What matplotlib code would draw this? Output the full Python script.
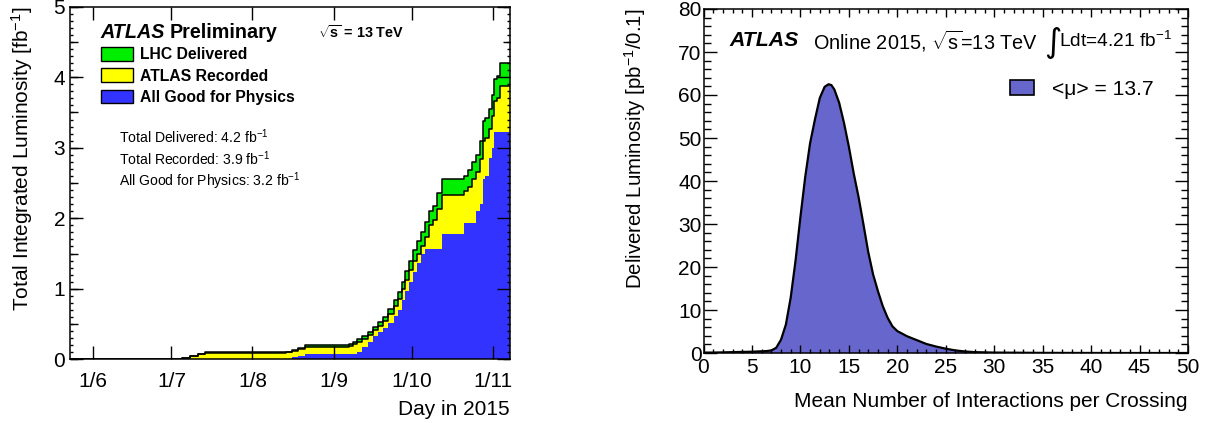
import matplotlib
matplotlib.use('Agg')
import matplotlib.pyplot as plt
from matplotlib.ticker import MultipleLocator
from matplotlib.patches import Patch

plt.rcParams['font.family'] = ['Liberation Sans', 'DejaVu Sans']
plt.rcParams['mathtext.fontset'] = 'custom'
plt.rcParams['mathtext.rm'] = 'Liberation Sans'
plt.rcParams['mathtext.it'] = 'Liberation Sans:italic'
plt.rcParams['mathtext.bf'] = 'Liberation Sans:bold'

# ---------------- data: left panel (cumulative luminosity, fb^-1) ----------------
day_of_year = [143, 152, 180, 186, 189, 192, 195, 226, 228, 230.5, 233, 250, 251.5, 253,
               255, 257, 259, 261, 263, 265, 267, 268.5, 270, 271.5, 273, 274.5, 276,
               277.5, 279, 280.5, 282, 283.5, 285.4, 294, 295.5, 297, 298.5, 300, 301,
               302, 303.5, 304.5, 305.5, 306.5, 307.5, 311.6]
lhc_delivered = [0, 0.002, 0.004, 0.02, 0.05, 0.08, 0.1, 0.11, 0.13, 0.16, 0.2, 0.22, 0.25,
                 0.29, 0.33, 0.39, 0.46, 0.53, 0.6, 0.72, 0.84, 0.96, 1.1, 1.25, 1.4, 1.55,
                 1.68, 1.8, 1.95, 2.1, 2.17, 2.36, 2.55, 2.6, 2.68, 2.8, 2.9, 3.1, 3.38,
                 3.42, 3.55, 3.75, 3.98, 4.02, 4.2, 4.2]
atlas_recorded = [0, 0.0015, 0.003, 0.015, 0.04, 0.07, 0.09, 0.1, 0.115, 0.145, 0.18, 0.19,
                  0.22, 0.25, 0.29, 0.34, 0.41, 0.47, 0.54, 0.64, 0.75, 0.86, 0.99, 1.12,
                  1.26, 1.4, 1.5, 1.6, 1.74, 1.9, 1.97, 2.13, 2.33, 2.38, 2.45, 2.56,
                  2.66, 2.84, 3.1, 3.14, 3.27, 3.45, 3.66, 3.7, 3.87, 3.87]
good_for_physics = [0, 0, 0, 0, 0, 0, 0, 0, 0.03, 0.05, 0.07, 0.07, 0.07, 0.1, 0.17, 0.25,
                    0.33, 0.39, 0.45, 0.52, 0.62, 0.7, 0.84, 0.97, 1.1, 1.24, 1.36, 1.5,
                    1.56, 1.56, 1.56, 1.56, 1.78, 1.93, 1.93, 1.93, 2.1, 2.2, 2.55, 2.6,
                    2.85, 3.0, 3.22, 3.22, 3.22, 3.22]
month_days = [152, 182, 213, 244, 274, 305]
month_labels = ['1/6', '1/7', '1/8', '1/9', '1/10', '1/11']
series_labels = ['LHC Delivered', 'ATLAS Recorded', 'All Good for Physics']
series_colors = ['#00ee00', '#ffff00', '#3333ff']
totals_text = ['Total Delivered: 4.2 fb$^{-1}$', 'Total Recorded: 3.9 fb$^{-1}$',
               'All Good for Physics: 3.2 fb$^{-1}$']

# ---------------- data: right panel (pile-up distribution) ----------------
mean_mu = [0, 1, 2, 3, 4, 5, 6, 6.5, 7, 7.5, 8, 8.5, 9, 9.5, 10, 10.5, 11, 11.5, 12, 12.5,
           12.9, 13.2, 13.5, 14, 14.5, 15, 15.5, 16, 16.5, 17, 17.5, 18, 18.5, 19, 19.5,
           20, 21, 22, 23, 24, 25, 26, 27, 28, 30, 35, 40, 45, 50]
delivered_per_bin = [0.1, 0.1, 0.15, 0.2, 0.25, 0.3, 0.4, 0.45, 0.6, 1.2, 3.1, 6.6, 12.9,
                     21.5, 31.6, 41.0, 48.8, 54.3, 59.3, 61.9, 62.5, 62.3, 61.3, 58.2,
                     53.5, 48.0, 41.8, 36.3, 30.0, 23.5, 18.3, 14.4, 10.9, 8.2, 6.2, 5.1,
                     3.9, 3.0, 2.1, 1.5, 1.0, 0.6, 0.35, 0.2, 0.1, 0.03, 0.01, 0.0, 0.0]
mu_label = '<\u03bc> = 13.7'

W, H = 1211, 423
fig = plt.figure(figsize=(W / 100, H / 100), dpi=100)

# ================= left panel =================
ax1 = fig.add_axes([70 / W, (H - 359.3) / H, 440 / W, 352.6 / H])
order = [(lhc_delivered, 0, True), (atlas_recorded, 1, True), (good_for_physics, 2, False)]
for vals, i, outline in order:
    ax1.fill_between(day_of_year, vals, step='post', facecolor=series_colors[i], lw=0)
    if outline:
        ax1.step(day_of_year, vals, where='post', color='k', lw=1.1)
ax1.set_xlim(143.2, 311.5)
ax1.set_ylim(0, 5)
ax1.set_xticks(month_days)
ax1.set_xticklabels(month_labels)
ax1.yaxis.set_major_locator(MultipleLocator(1))
ax1.yaxis.set_minor_locator(MultipleLocator(0.1))
ax1.tick_params(axis='both', which='both', direction='in', top=True, right=True,
                labelsize=15, width=1.0)
ax1.tick_params(axis='x', which='major', length=9.4, pad=9.5)
ax1.tick_params(axis='y', which='major', length=9.4, pad=3.5)
ax1.tick_params(axis='y', which='minor', length=2.2)
for side in ('left', 'right'):
    sec = ax1.secondary_yaxis(side)
    sec.yaxis.set_major_locator(MultipleLocator(0.5))
    sec.tick_params(direction='in', length=5.4, width=1.0, labelleft=False, labelright=False)
    for sp in sec.spines.values():
        sp.set_visible(False)
for sp in ax1.spines.values():
    sp.set_linewidth(1.1)
ax1.set_ylabel('Total Integrated Luminosity [fb$^{-1}$]', fontsize=15, loc='top',
               va='center')
ax1.yaxis.set_label_coords(-0.109, 1.0)
ax1.set_xlabel('Day in 2015', fontsize=15, loc='right', va='center')
ax1.xaxis.set_label_coords(1.0, -0.142)

atl = ax1.text(0.068, 0.912, 'ATLAS', transform=ax1.transAxes, fontsize=14.2,
               fontweight='bold', fontstyle='italic', va='baseline')
ax1.annotate('Preliminary', xy=(1, 0), xycoords=atl, xytext=(4, 0),
             textcoords='offset points', fontsize=14.2, fontweight='bold', va='bottom')
ax1.text(0.5636, 0.912, r'$\mathbf{\sqrt{s}}$ = 13 TeV', transform=ax1.transAxes,
         fontsize=10.4, fontweight='bold', va='baseline')
handles = [Patch(facecolor=c, edgecolor='k', lw=1.0) for c in series_colors]
ax1.legend(handles, series_labels, loc='upper left', bbox_to_anchor=(0.0705, 0.885),
           frameon=False, borderpad=0, borderaxespad=0, handlelength=2.05,
           handleheight=0.95, handletextpad=0.45, labelspacing=0.38,
           prop={'weight': 'bold', 'size': 11.3})
for k, t in enumerate(totals_text):
    ax1.text(0.1114, 0.630 - 0.0624 * k, t, transform=ax1.transAxes, fontsize=10.1,
             va='center')

# ================= right panel =================
ax2 = fig.add_axes([703.5 / W, (H - 353) / H, 484.5 / W, 344 / H])
ax2.fill_between(mean_mu, delivered_per_bin, facecolor='#6666cc', lw=0)
ax2.plot(mean_mu, delivered_per_bin, color='k', lw=1.6)
ax2.set_xlim(0, 50)
ax2.set_ylim(0, 80)
ax2.xaxis.set_major_locator(MultipleLocator(5))
ax2.xaxis.set_minor_locator(MultipleLocator(1))
ax2.yaxis.set_major_locator(MultipleLocator(10))
ax2.yaxis.set_minor_locator(MultipleLocator(2))
ax2.tick_params(axis='both', which='both', direction='in', top=True, right=True,
                labelsize=15, width=1.0)
ax2.tick_params(axis='x', which='major', length=5.8, pad=3.5)
ax2.tick_params(axis='x', which='minor', length=2.9)
ax2.tick_params(axis='y', which='major', length=9.4, pad=1.5)
ax2.tick_params(axis='y', which='minor', length=5.0)
for sp in ax2.spines.values():
    sp.set_linewidth(1.1)
ax2.set_ylabel('Delivered Luminosity [pb$^{-1}$/0.1]', fontsize=14.7, loc='top',
               va='center')
ax2.yaxis.set_label_coords(-0.141, 1.0)
ax2.set_xlabel('Mean Number of Interactions per Crossing', fontsize=15, loc='right',
               va='center')
ax2.xaxis.set_label_coords(1.0, -0.141)

ax2.text(0.0526, 0.907, 'ATLAS', transform=ax2.transAxes, fontsize=15.3,
         fontweight='bold', fontstyle='italic', va='center')
ax2.text(0.227, 0.907, r'Online 2015, $\sqrt{\mathrm{s}}$=13 TeV', transform=ax2.transAxes,
         fontsize=14.3, va='center')
ax2.text(0.704, 0.902, '\u222b', transform=ax2.transAxes, fontsize=24, va='center',
         family=['DejaVu Sans'])
ax2.text(0.7345, 0.907, r'Ldt=4.21 fb$^{-1}$', transform=ax2.transAxes,
         fontsize=13.8, va='center')
mu_handle = [Patch(facecolor='#6666cc', edgecolor='k', lw=1.2)]
ax2.legend(mu_handle, [mu_label], loc='upper left', bbox_to_anchor=(0.6326, 0.795),
           frameon=False, borderpad=0, borderaxespad=0, handlelength=1.15,
           handleheight=0.7, handletextpad=0.85, fontsize=15.2)

fig.savefig('out.png', dpi=100)
